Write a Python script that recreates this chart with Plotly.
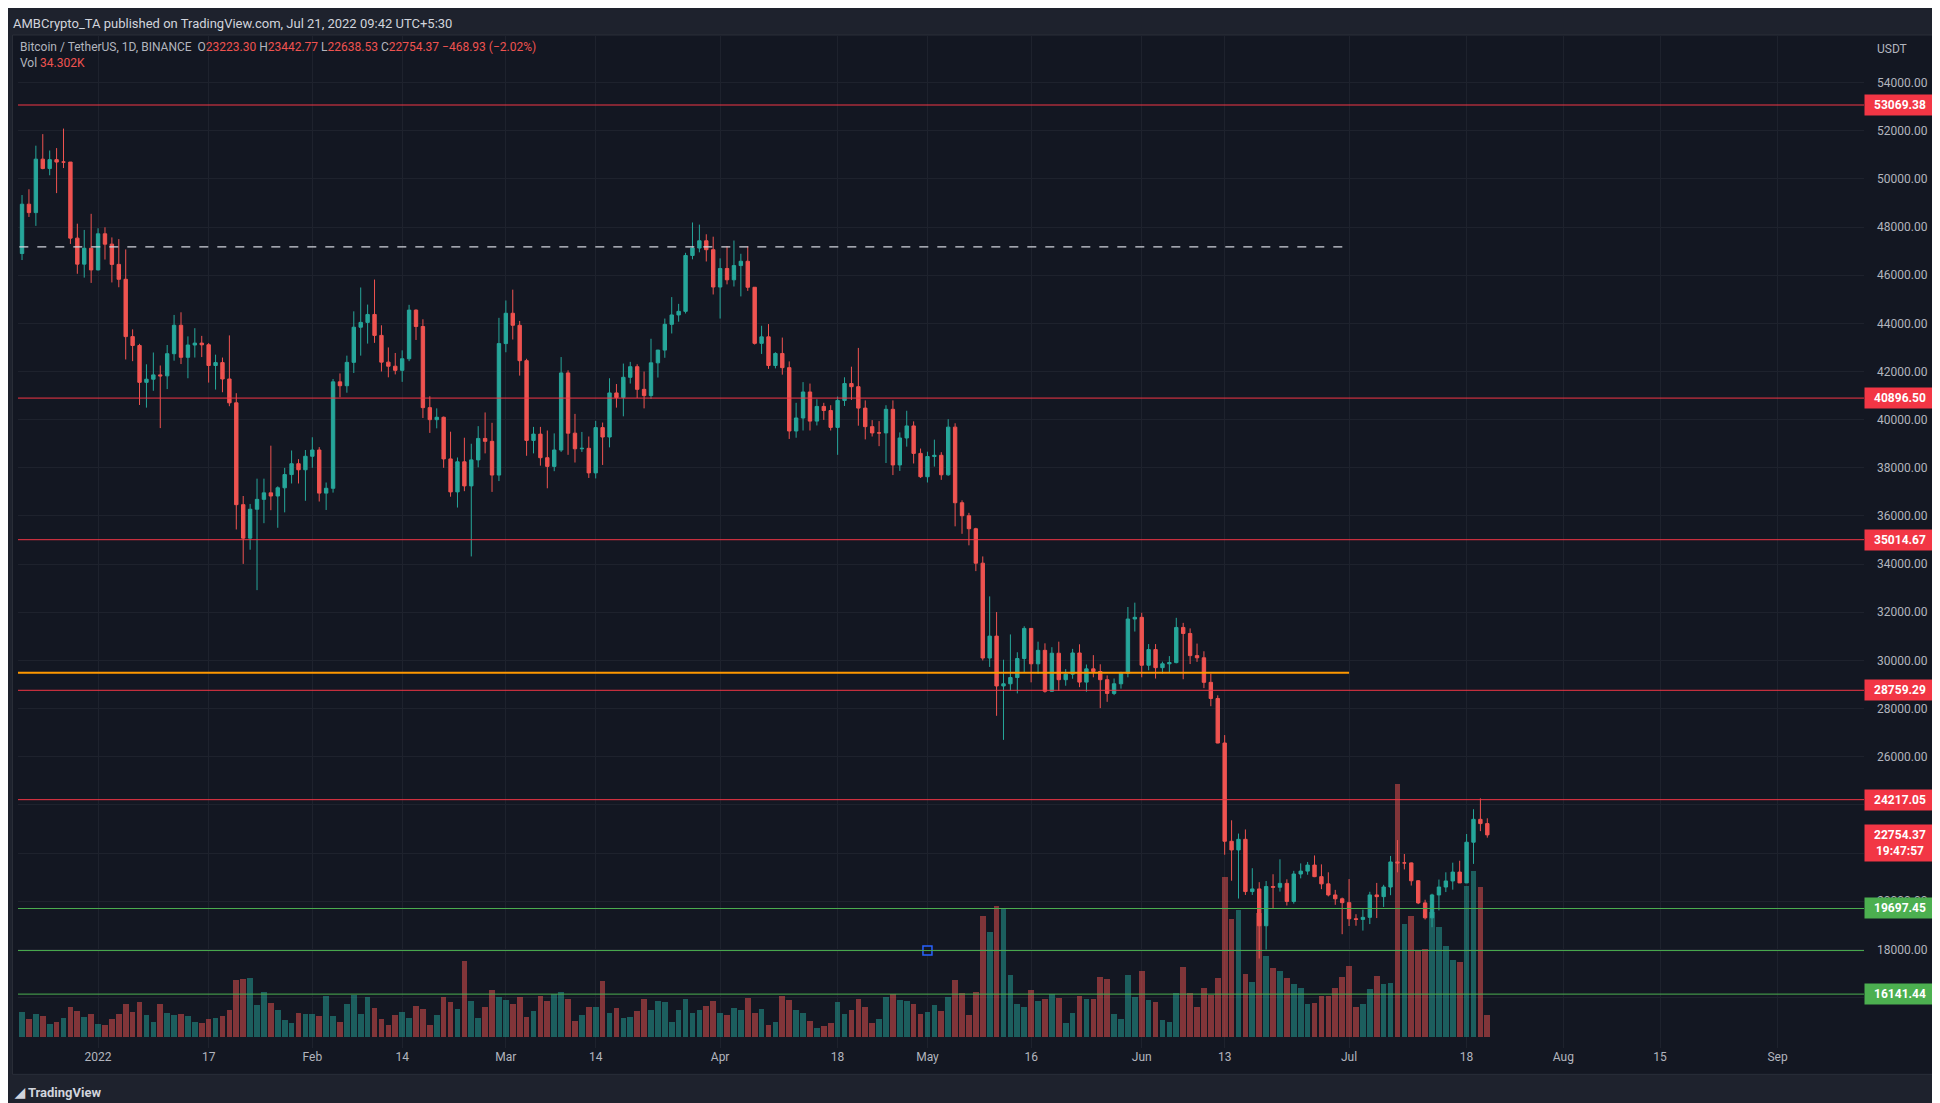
import pandas as pd
import plotly.graph_objects as go

# daily BTC/USDT candles, 2021-12-19 .. 2022-07-21
dates = pd.date_range("2021-12-19", "2022-07-21", freq="D")

first_open = 46850

close = [
    46680, 46900, 48950, 48600, 50820, 50430, 50800, 50700, 50700, 47540, 46460, 47120, 46220,
    47720, 47290, 46450, 45830, 43450, 43080, 41550, 41680, 41860, 41820, 42740, 43920, 42590, 43100, 43180, 43110,
    42250, 42370, 41690, 40700, 36470, 35080, 36280, 36690, 36960, 36830, 37170, 37720, 38170, 37920, 38480,
    38740, 36950, 37150, 41570, 41410, 42380, 43840, 44040, 44370, 43500, 42390, 42220, 42050, 42530, 44550, 43870,
    40500, 40000, 40100, 38370, 37000, 38250, 37250, 38330, 39220, 39100, 37700, 43160,
    44420, 43920, 42450, 39140, 39400, 38420, 38060, 38740, 41940, 39440, 38790, 38810, 37790, 39670, 39280, 41110,
    40920, 41760, 42200, 41260, 41000, 42360, 42890, 43960, 44350, 44500, 46820, 47130, 47430, 47060, 45510,
    46280, 45810, 46400, 46580, 45500, 43170, 43440, 42250, 42750, 42160, 39530, 40070, 41150, 39940, 40550,
    40380, 39680, 40800, 41500, 41370, 40480, 39710, 39450, 39450, 40430, 38120, 39240, 39740, 38600, 37630,
    38470, 38520, 37710, 39690, 36550, 36010, 35470, 34040, 30100, 31010, 28940, 29030, 29290, 30080, 31330,
    29860, 30420, 28720, 30300, 29200, 29430, 30310, 29100, 29650, 29540, 29200, 28630, 29030, 29470, 31720, 31790,
    29800, 30450, 29700, 29860, 29910, 31370, 31120, 30200, 30110, 29090, 28420, 26570, 22490, 22130, 22570,
    20400, 20510, 18980, 20610, 20580, 20740, 19990, 21130, 21250, 21500, 21020, 20720, 20260, 20100, 19940,
    19270, 19245, 19330, 20260, 20190, 20590, 21630, 21590, 21590, 20850, 19930, 19310, 20260, 20590, 20840,
    21210, 20760, 22450, 23400, 23223.30, 22754.37,
]

high = [
    48300, 47550, 49330, 49570, 51380, 51860, 51180, 51280, 52090, 50700, 48140, 47880, 48550,
    47950, 47990, 47570, 47500, 47070, 43750, 43150, 42300, 42790, 42250, 43100, 44350, 44460, 43460, 43800, 43480,
    43180, 42700, 42580, 43500, 41100, 36830, 36500, 37550, 37550, 38920, 37230, 38000, 38720, 38360, 38740,
    39270, 38860, 37390, 41690, 41920, 42660, 44500, 45490, 44780, 45820, 43920, 43000, 42770, 42880, 44770, 44580,
    44170, 40970, 40470, 40130, 39500, 38430, 39250, 39000, 39730, 40300, 39870, 44230,
    44950, 45400, 44100, 42530, 39700, 39700, 39550, 39430, 42600, 42050, 40240, 39490, 39300, 39950, 39880, 41720,
    41480, 42330, 42400, 42300, 42000, 43360, 42900, 44200, 45090, 44810, 46930, 48190, 48100, 47700, 47600,
    46700, 47210, 47440, 46890, 47200, 45500, 43900, 43970, 42800, 43410, 42420, 40700, 41560, 41500, 40850,
    40700, 40600, 40960, 41760, 42200, 42980, 40800, 39980, 39940, 40600, 40800, 39470, 40370, 39930, 38800,
    38670, 39170, 38650, 40020, 39850, 36650, 36130, 35510, 34320, 32660, 32010, 30030, 31080, 30340, 31420,
    31330, 30780, 30710, 30550, 30780, 29640, 30480, 30670, 29830, 30220, 29840, 29380, 29250, 29530, 32220, 32400,
    31980, 30680, 30680, 29950, 30180, 31770, 31560, 31330, 30700, 30380, 29450, 28550, 26900, 23360, 22810,
    22980, 21370, 20790, 20840, 21120, 21740, 20910, 21260, 21570, 21630, 21900, 21530, 21200, 20470, 20150,
    20920, 19460, 19650, 20390, 20760, 20680, 21880, 22540, 21960, 21610, 20880, 20060, 20310, 20900, 21200,
    21600, 21680, 22790, 23820, 24270, 23442.77,
]

low = [
    46400, 45550, 46630, 48420, 48050, 50400, 50150, 49410, 50450, 47300, 46060, 45900, 45680,
    46200, 46650, 45700, 45500, 42500, 42430, 40610, 40500, 41200, 39650, 41270, 42450, 42310, 41720, 42580, 42600,
    41540, 41250, 41140, 40560, 35440, 34010, 34600, 32920, 35700, 36240, 35510, 36150, 37350, 37350, 36630,
    38000, 36600, 36250, 36970, 40930, 41120, 41940, 42660, 43160, 43190, 42000, 41760, 41880, 41570, 42430, 43310,
    40070, 39450, 39640, 38000, 36800, 36350, 37030, 34320, 38020, 38600, 37000, 37450,
    42800, 43330, 41830, 38500, 38600, 38090, 37150, 37860, 38660, 38540, 38220, 38660, 37580, 37560, 38120, 38850,
    40500, 40140, 41500, 40900, 40470, 40860, 41750, 42570, 43580, 44070, 44410, 46660, 46950, 46570, 45200,
    44200, 45620, 45530, 45120, 45350, 43120, 42730, 42110, 42130, 41870, 39200, 39250, 39550, 39550, 39760,
    39990, 39550, 38540, 40570, 40820, 39750, 39180, 39300, 38900, 38200, 37700, 37870, 38880, 38180, 37580,
    37390, 38050, 37500, 37670, 35570, 35260, 34780, 33710, 30000, 29730, 27700, 26700, 28750, 28630, 29490,
    29090, 29450, 28660, 28700, 28730, 28950, 29240, 28890, 28700, 29300, 28020, 28280, 28560, 28830, 29300, 31200,
    29300, 29590, 29250, 29450, 29520, 29880, 29220, 29850, 29940, 28850, 28100, 26560, 21930, 20850, 20110,
    20260, 20260, 17620, 17990, 19710, 20400, 19820, 19900, 20950, 21100, 21000, 20500, 20200, 19850, 18630,
    18970, 18980, 18780, 19050, 19300, 19760, 20250, 21200, 21320, 20650, 19880, 19240, 18920, 19620, 20380,
    20480, 20760, 20760, 21550, 22910, 22638.53,
]

# volume, in chart bar units (last bar = 34.302K BTC)
volume = [
    57, 69, 75, 54, 69, 63, 39, 45, 57, 90, 78, 60, 69, 39, 36, 54, 69, 99, 75, 105,
    66, 45, 99, 72, 66, 69, 63, 45, 42, 54, 57, 63, 81, 171, 174, 177, 96, 135, 102, 81,
    51, 42, 72, 69, 69, 63, 123, 63, 45, 99, 126, 69, 120, 87, 54, 36, 66, 75, 57, 93,
    84, 36, 66, 120, 105, 84, 228, 108, 57, 90, 141, 120, 111, 99, 120, 60, 78, 123, 108, 129,
    135, 114, 48, 66, 90, 90, 168, 72,
    87, 57, 60, 78, 114, 81, 108, 105, 45, 81, 114, 72, 81, 93, 108, 72, 66, 87, 81, 117,
    72, 84, 36, 45, 123, 111, 81, 72, 48, 27, 33, 42, 105, 69, 81, 114, 90, 42, 54, 120,
    129, 111, 108, 99, 69, 75, 96, 78, 120, 171, 132, 66, 135, 363, 315, 393, 387, 186, 99, 90,
    141, 108, 114, 129, 117, 42, 72, 123, 114, 114, 180, 174, 69, 54, 186, 120, 198, 111, 105, 51,
    45, 132,
    210, 132, 90, 147, 126, 177, 480, 354, 381, 189, 165, 372, 243, 207, 198, 177, 159, 147, 99, 102,
    123, 123, 147, 180, 213, 90, 99, 144, 183, 159, 162, 759, 339, 363, 261, 264, 375, 330, 273, 231,
    225, 453, 498, 450, 66,
]

opens = [first_open] + close[:-1]
opens[-1] = 23223.30

red_levels = [53069.38, 40896.50, 35014.67, 28759.29, 24217.05]
green_levels = [19697.45, 16141.44]
plain_green_level = 17950
orange_level = 29490
dashed_level = 47180
lines_start = "2021-12-18"
lines_end = "2022-07-01"

price_ticks = list(range(16000, 56000, 2000))

tick_dates = ["2022-01-01", "2022-01-17", "2022-02-01", "2022-02-14", "2022-03-01", "2022-03-14",
              "2022-04-01", "2022-04-18", "2022-05-01", "2022-05-16", "2022-06-01", "2022-06-13",
              "2022-07-01", "2022-07-18", "2022-08-01", "2022-08-15", "2022-09-01"]
tick_text = ["2022", "17", "Feb", "14", "Mar", "14", "Apr", "18", "May", "16", "Jun", "13",
             "Jul", "18", "Aug", "15", "Sep"]

UP, DOWN = "#26a69a", "#ef5350"
BG, FRAME = "#131722", "#1e222d"
GRID = "#1e222d"

df = pd.DataFrame({"date": dates, "open": opens, "high": high, "low": low,
                   "close": close, "volume": volume})
df["up"] = df["close"] >= df["open"]

fig = go.Figure()

fig.add_trace(go.Bar(
    x=df["date"], y=df["volume"], yaxis="y2",
    marker=dict(color=["rgba(38,166,154,0.5)" if u else "rgba(239,83,80,0.5)" for u in df["up"]],
                line_width=0),
    width=0.82 * 86400000, hoverinfo="skip",
))

fig.add_trace(go.Candlestick(
    x=df["date"], open=df["open"], high=df["high"], low=df["low"], close=df["close"],
    increasing=dict(line=dict(color=UP, width=1), fillcolor=UP),
    decreasing=dict(line=dict(color=DOWN, width=1), fillcolor=DOWN),
    whiskerwidth=0,
))

# blue anchor handle on the plain green line
fig.add_trace(go.Scatter(
    x=["2022-05-01"], y=[plain_green_level], mode="markers",
    marker=dict(symbol="square", size=9, color=BG, line=dict(color="#2962ff", width=1.5)),
    hoverinfo="skip",
))

shapes = [
    # frame behind the whole chart area including axes
    dict(type="rect", xref="paper", yref="paper", x0=-0.003, x1=1.04, y0=-0.026, y1=1.0,
         fillcolor=BG, line=dict(color="#2a2e39", width=1), layer="below"),
]
for lv in red_levels:
    shapes.append(dict(type="line", xref="paper", yref="y", x0=0, x1=1, y0=lv, y1=lv,
                       line=dict(color="#f23645", width=1)))
for lv in green_levels + [plain_green_level]:
    shapes.append(dict(type="line", xref="paper", yref="y", x0=0, x1=1, y0=lv, y1=lv,
                       line=dict(color="#4caf50", width=1)))
shapes.append(dict(type="line", xref="x", yref="y", x0=lines_start, x1=lines_end,
                   y0=orange_level, y1=orange_level, line=dict(color="#ff9800", width=2)))
shapes.append(dict(type="line", xref="x", yref="y", x0=lines_start, x1=lines_end,
                   y0=dashed_level, y1=dashed_level, line=dict(color="#d1d4dc", width=1.3, dash="dash")))

annotations = []


def price_tag(y, text, color, yshift=0):
    annotations.append(dict(
        xref="paper", yref="y", x=1.0, y=y, xanchor="left", yanchor="middle", yshift=yshift,
        text=f"<b>{text}</b>", showarrow=False, bgcolor=color, borderpad=3,
        font=dict(color="white", size=12, family="Roboto"), width=64, align="center",
    ))


for lv in red_levels:
    price_tag(lv, f"{lv:.2f}", "#f23645")
for lv in green_levels:
    price_tag(lv, f"{lv:.2f}", "#4caf50")
price_tag(close[-1], f"{close[-1]:.2f}<br>19:47:57", "#f23645", yshift=-8)

annotations += [
    dict(xref="paper", yref="paper", x=1.006, y=0.995, xanchor="left", yanchor="top",
         text="USDT", showarrow=False, font=dict(color="#b2b5be", size=12)),
    dict(xref="paper", yref="paper", x=0.0, y=1.0, yshift=-3, xanchor="left", yanchor="top", align="left",
         showarrow=False, font=dict(color="#b2b5be", size=12),
         text=("Bitcoin / TetherUS, 1D, BINANCE  O<span style='color:#ef5350'>23223.30</span> "
               "H<span style='color:#ef5350'>23442.77</span> L<span style='color:#ef5350'>22638.53</span> "
               "C<span style='color:#ef5350'>22754.37</span> <span style='color:#ef5350'>−468.93 (−2.02%)</span>"
               "<br>Vol <span style='color:#ef5350'>34.302K</span>")),
    dict(xref="paper", yref="paper", x=-0.004, y=1.0, xanchor="left", yanchor="bottom",
         yshift=2, showarrow=False, font=dict(color="#d1d4dc", size=13),
         text="AMBCrypto_TA published on TradingView.com, Jul 21, 2022 09:42 UTC+5:30"),
    dict(xref="paper", yref="paper", x=-0.003, y=-0.044, xanchor="left", yanchor="middle",
         showarrow=False, font=dict(color="#d1d4dc", size=13, family="Roboto"),
         text="<b>◢ TradingView</b>"),
]

fig.update_layout(
    width=1940, height=1103,
    margin=dict(l=10, r=84, t=27, b=63),
    paper_bgcolor=FRAME, plot_bgcolor=BG,
    showlegend=False, bargap=0,
    font=dict(family="Roboto, Liberation Sans, sans-serif", color="#b2b5be"),
    shapes=shapes, annotations=annotations,
    xaxis=dict(
        type="date", range=["2021-12-20 10:00", "2022-09-13 12:00"],
        rangeslider=dict(visible=False),
        tickvals=tick_dates, ticktext=tick_text, tickfont=dict(size=12, color="#b2b5be"),
        showgrid=True, gridcolor=GRID, zeroline=False, showline=False, ticks="",
    ),
    yaxis=dict(
        range=[13903, 55977], side="right", tickvals=price_ticks, tickformat=".2f",
        showgrid=True, gridcolor=GRID, zeroline=False, tickfont=dict(size=12, color="#b2b5be"),
        ticklabelstandoff=12,
    ),
    yaxis2=dict(range=[-33, 3006], overlaying="y", visible=False),
)

fig.write_html("out.html")
